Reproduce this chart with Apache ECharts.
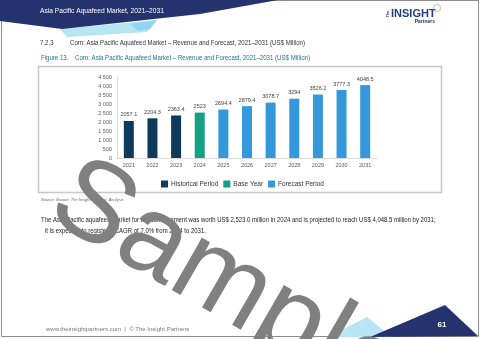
<!DOCTYPE html>
<html><head><meta charset="utf-8">
<script src="https://cdn.jsdelivr.net/npm/echarts@6/dist/echarts.min.js"></script>
<style>html,body{margin:0;padding:0;background:#fff}#c{width:480px;height:339px}</style>
</head><body><div id="c"></div>
<script>
const years = ['2021','2022','2023','2024','2025','2026','2027','2028','2029','2030','2031'];
const historical = [2057.1, 2204.3, 2363.4, null, null, null, null, null, null, null, null];
const baseYear = [null, null, null, 2523, null, null, null, null, null, null, null];
const forecast = [null, null, null, null, 2694.4, 2879.4, 3078.7, 3294, 3526.2, 3777.3, 4048.5];
const seriesNames = ['Historical Period', 'Base Year', 'Forecast Period'];
const yTicks = [0, 500, 1000, 1500, 2000, 2500, 3000, 3500, 4000, 4500];

const FONT = '"Liberation Sans",Arial,sans-serif';
const chart = echarts.init(document.getElementById('c'), null, {renderer:'canvas'});
const fmtY = v => v >= 1000 ? Math.floor(v/1000) + ' ' + String(v%1000).padStart(3,'0') : String(v);
const lbl = {show:true, position:'top', distance:3, fontSize:5.5, color:'#404040', fontFamily:FONT};
function txt(x, y, s, size, fill, sx, extra) {
  return {type:'text', x:x, y:y, z:20, scaleX:sx||1, style:Object.assign({text:s, fill:fill, font: size + 'px ' + FONT, textVerticalAlign:'middle'}, extra||{})};
}
const th = 30*Math.PI/180;
chart.setOption({
  animation:false,
  grid:{left:117, right:103, top:77, bottom:181},
  xAxis:{type:'category', data:years, axisTick:{show:false},
    axisLine:{lineStyle:{color:'#d9d9d9'}},
    axisLabel:{fontSize:5.5, color:'#595959', margin:4, fontFamily:FONT}},
  yAxis:{type:'value', min:yTicks[0], max:yTicks[yTicks.length-1], interval:500,
    splitLine:{show:false}, axisLine:{show:true, lineStyle:{color:'#d9d9d9'}}, axisTick:{show:false},
    axisLabel:{fontSize:5.5, color:'#595959', margin:5, fontFamily:FONT, formatter:fmtY}},
  legend:{data:seriesNames, left:161, top:180.5, itemWidth:7, itemHeight:7, itemGap:5, padding:0,
    icon:'rect', textStyle:{fontSize:6.5, color:'#333', fontFamily:FONT, padding:[0,0,0,-2]}},
  series:[
    {name:seriesNames[0], type:'bar', stack:'s', barWidth:10, data:historical, itemStyle:{color:'#0e3a5c'}, label:lbl},
    {name:seriesNames[1], type:'bar', stack:'s', barWidth:10, data:baseYear, itemStyle:{color:'#14a085'}, label:lbl},
    {name:seriesNames[2], type:'bar', stack:'s', barWidth:10, data:forecast, itemStyle:{color:'#3498db'}, label:lbl}
  ],
  graphic:[
    {type:'rect', z:-10, shape:{x:1.5, y:0.5, width:477, height:336}, style:{fill:'none', stroke:'#8c8c8c', lineWidth:1}},
    {type:'polygon', z:1, shape:{points:[[60,29],[157,20],[147,32],[67,37]]}, style:{fill:'#b8e5f3'}},
    {type:'polygon', z:1, shape:{points:[[130,24],[157,20],[150,29],[138,31]]}, style:{fill:'#8fd6ee'}},
    {type:'polygon', z:2, shape:{points:[[0,0],[278,0],[200,14],[62,29],[0,21]]}, style:{fill:'#24336e'}},
    txt(40, 11, 'Asia Pacific Aquafeed Market, 2021–2031', 7, '#ffffff', 0.95),
    // logo
    {type:'text', x:388, y:14, z:20, rotation:Math.PI/2, style:{text:'The', fill:'#24336e', font:'bold 4px '+FONT, textAlign:'center', textVerticalAlign:'middle'}},
    txt(391, 13.5, 'INSIGHT', 11, '#1f3c8c', 1, {font:'bold 11px '+FONT}),
    txt(435, 22, 'Partners', 5, '#24336e', 1, {font:'bold 5px '+FONT, textAlign:'right'}),
    {type:'circle', z:20, shape:{cx:437, cy:8, r:3.5}, style:{fill:'none', stroke:'#999', lineWidth:0.6}},
    // headings
    txt(40, 43, '7.2.3', 7, '#333', 0.87),
    txt(70, 43, 'Corn: Asia Pacific Aquafeed Market – Revenue and Forecast, 2021–2031 (US$ Million)', 7, '#333', 0.87),
    txt(41, 58, 'Figure 13.', 7, '#1e7394', 0.87),
    txt(75, 58, 'Corn: Asia Pacific Aquafeed Market – Revenue and Forecast, 2021–2031 (US$ Million)', 7, '#1e7394', 0.87),
    {type:'rect', z:-5, shape:{x:38.5, y:66.5, width:403, height:126}, style:{fill:'none', stroke:'#c8c8c8', lineWidth:1.5}},
    txt(41, 200, "Source: Source: The Insight Partners' Analysis", 4, '#666', 1, {font:'italic 4px '+FONT}),
    txt(41, 220, 'The Asia Pacific aquafeed market for the corn segment was worth US$ 2,523.0 million in 2024 and is projected to reach US$ 4,048.5 million by 2031;', 6.5, '#222', 0.92),
    txt(45, 231, 'it is expected to register a CAGR of 7.0% from 2024 to 2031.', 6.5, '#222', 0.92),
    txt(46, 329, 'www.theinsightpartners.com  |  © The Insight Partners', 6, '#777'),
    // bottom decorations
    {type:'polygon', z:1, shape:{points:[[328,337],[367,317],[392,337]]}, style:{fill:'#b8e5f3'}},
    {type:'polygon', z:2, shape:{points:[[370,337],[445,305],[478,336]]}, style:{fill:'#24336e'}},
    txt(442, 325, '61', 8, '#ffffff', 1, {font:'bold 8px '+FONT, textAlign:'center'}),
    // watermark
    {type:'text', x:60, y:189, z:50, rotation:-th, style:{text:'Sample', fill:'#808080', font:'114px '+FONT, textAlign:'left', textVerticalAlign:'middle'}}
  ]
});
</script></body></html>
